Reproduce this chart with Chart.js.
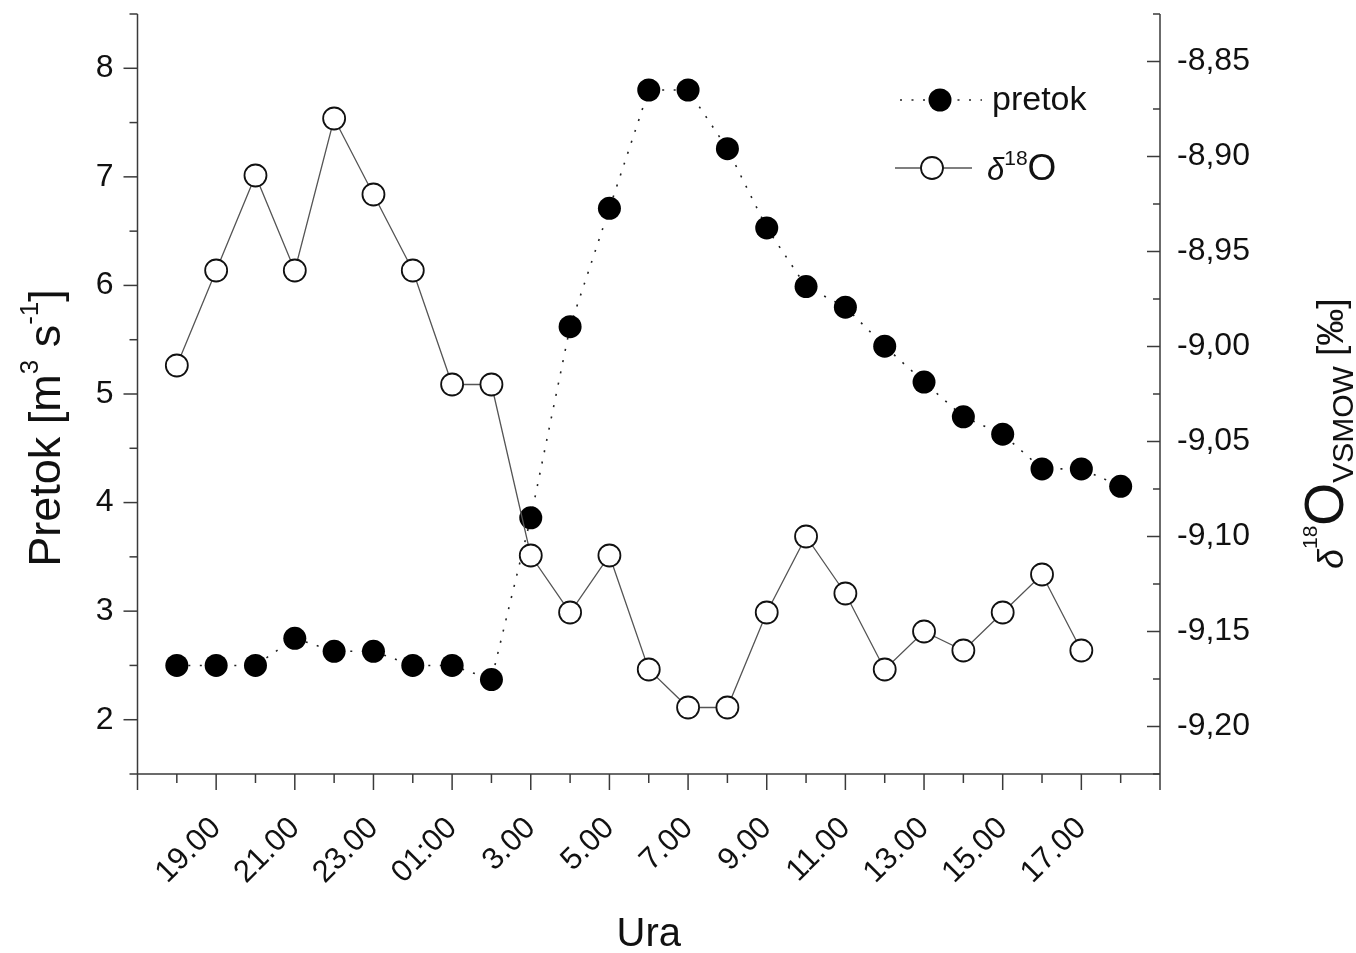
<!DOCTYPE html>
<html>
<head>
<meta charset="utf-8">
<script src="https://cdn.jsdelivr.net/npm/chart.js@4.4.0/dist/chart.umd.min.js"></script>
<style>
  html, body { margin: 0; padding: 0; background: #fff; }
  #wrap { width: 1356px; height: 953px; }
</style>
</head>
<body>
<div id="wrap"><canvas id="graf"></canvas></div>
<script>
// ura meritve (od 18.00 do 18.00 naslednji dan); lihe se izpišejo na osi
const ure = ['18.00', '19.00', '20.00', '21.00', '22.00', '23.00', '00.00', '01:00', '2.00',
  '3.00', '4.00', '5.00', '6.00', '7.00', '8.00', '9.00', '10.00', '11.00', '12.00',
  '13.00', '14.00', '15.00', '16.00', '17.00', '18.00'];

// pretok [m3/s]
const pretok = [2.50, 2.50, 2.50, 2.75, 2.63, 2.63, 2.50, 2.50, 2.37, 3.86, 5.62, 6.71, 7.80,
  7.80, 7.26, 6.53, 5.99, 5.80, 5.44, 5.11, 4.79, 4.63, 4.31, 4.31, 4.15];

// delta 18O [permil]
const delta18O = [-9.01, -8.96, -8.91, -8.96, -8.88, -8.92, -8.96, -9.02, -9.02, -9.11, -9.14,
  -9.11, -9.17, -9.19, -9.19, -9.14, -9.10, -9.13, -9.17, -9.15, -9.16, -9.14, -9.12, -9.16];

const levoTicks = [2, 3, 4, 5, 6, 7, 8];
const desnoTicks = [-9.20, -9.15, -9.10, -9.05, -9.00, -8.95, -8.90, -8.85];

const pisava = '"Liberation Sans", Arial, sans-serif';
const barvaOsi = '#3a3a3a';

function crta(ctx, x0, y0, x1, y1) {
  ctx.beginPath();
  ctx.moveTo(x0, y0);
  ctx.lineTo(x1, y1);
  ctx.stroke();
}

// niz delov besedila (nadpisi, podpisi) od x naprej na osnovni črti y
function besedilo(ctx, deli, x, y, risi) {
  let cx = x;
  for (const d of deli) {
    ctx.font = (d.italic ? 'italic ' : '') + d.size + 'px ' + pisava;
    if (risi) ctx.fillText(d.t, cx, y + (d.dy || 0));
    cx += ctx.measureText(d.t).width;
  }
  return cx - x;
}

// osi in zareze
const osiPlugin = {
  id: 'osi',
  beforeDatasetsDraw(chart) {
    const { ctx, chartArea: a, scales: { x, y, y1 } } = chart;
    ctx.save();
    ctx.strokeStyle = barvaOsi;
    ctx.lineWidth = 1.5;
    crta(ctx, a.left, a.top, a.left, a.bottom);
    crta(ctx, a.left, a.bottom, a.right, a.bottom);
    crta(ctx, a.right, a.top, a.right, a.bottom);

    for (let v = y.min; v <= y.max + 1e-9; v += 0.5) {
      const p = y.getPixelForValue(v);
      const dolga = levoTicks.some(t => Math.abs(t - v) < 1e-6);
      crta(ctx, a.left - (dolga ? 14 : 8), p, a.left, p);
    }
    for (let v = y1.min; v <= y1.max + 1e-9; v += 0.025) {
      const p = y1.getPixelForValue(v);
      const dolga = desnoTicks.some(t => Math.abs(t - v) < 1e-6);
      crta(ctx, a.right - (dolga ? 13 : 7), p, a.right, p);
    }
    for (let v = x.min; v <= x.max; v++) {
      const p = x.getPixelForValue(v);
      const dolga = Math.abs(v % 2) === 1;
      crta(ctx, p, a.bottom, p, a.bottom + (dolga ? 16 : 9));
    }
    ctx.restore();
  }
};

// naslovi osi
const nasloviPlugin = {
  id: 'naslovi',
  afterDraw(chart) {
    const { ctx, chartArea: a } = chart;
    ctx.save();
    ctx.fillStyle = '#111';
    ctx.textBaseline = 'alphabetic';

    ctx.font = '40px ' + pisava;
    ctx.textAlign = 'center';
    ctx.fillText('Ura', (a.left + a.right) / 2, 946);
    ctx.textAlign = 'left';

    const levo = [
      { t: 'Pretok [m', size: 45 },
      { t: '3', size: 26, dy: -22 },
      { t: ' s', size: 45 },
      { t: '-1', size: 26, dy: -22 },
      { t: ']', size: 45 }
    ];
    ctx.save();
    ctx.translate(60, 428);
    ctx.rotate(-Math.PI / 2);
    const w = besedilo(ctx, levo, 0, 0, false);
    besedilo(ctx, levo, -w / 2, 0, true);
    ctx.restore();

    const desno = [
      { t: 'δ', size: 36, italic: true },
      { t: '18', size: 21, dy: -26 },
      { t: 'O', size: 55 },
      { t: 'VSMOW', size: 30, dy: 10 },
      { t: ' [‰]', size: 37 }
    ];
    ctx.save();
    ctx.translate(1343, 569);
    ctx.rotate(-Math.PI / 2);
    besedilo(ctx, desno, 0, 0, true);
    ctx.restore();
    ctx.restore();
  }
};

// legenda
const legendaPlugin = {
  id: 'legenda',
  afterDatasetsDraw(chart) {
    const ctx = chart.ctx;
    const dsP = chart.data.datasets[1];
    const dsD = chart.data.datasets[0];
    ctx.save();
    ctx.fillStyle = '#111';

    ctx.strokeStyle = dsP.borderColor;
    ctx.lineWidth = dsP.borderWidth;
    ctx.setLineDash(dsP.borderDash);
    crta(ctx, 900, 100, 982, 100);
    ctx.setLineDash([]);
    ctx.beginPath();
    ctx.arc(940, 100, dsP.pointRadius, 0, Math.PI * 2);
    ctx.fillStyle = dsP.pointBackgroundColor;
    ctx.fill();
    ctx.fillStyle = '#111';
    besedilo(ctx, [{ t: dsP.label, size: 34 }], 992, 110, true);

    ctx.strokeStyle = dsD.borderColor;
    ctx.lineWidth = dsD.borderWidth;
    crta(ctx, 895, 168, 972, 168);
    ctx.beginPath();
    ctx.arc(932, 168, dsD.pointRadius, 0, Math.PI * 2);
    ctx.fillStyle = dsD.pointBackgroundColor;
    ctx.fill();
    ctx.strokeStyle = dsD.pointBorderColor;
    ctx.lineWidth = dsD.pointBorderWidth;
    ctx.stroke();
    ctx.fillStyle = '#111';
    besedilo(ctx, [
      { t: 'δ', size: 31, italic: true },
      { t: '18', size: 21, dy: -15 },
      { t: 'O', size: 37 }
    ], 987, 180, true);
    ctx.restore();
  }
};

function brezRoba(s) {
  s.paddingLeft = 0; s.paddingRight = 0; s.paddingTop = 0; s.paddingBottom = 0;
}

const ctx = document.getElementById('graf').getContext('2d');
new Chart(ctx, {
  type: 'line',
  data: {
    datasets: [
      {
        label: 'δ18O',
        data: delta18O.map((v, i) => ({ x: i, y: v })),
        yAxisID: 'y1',
        borderColor: '#555',
        borderWidth: 1.3,
        pointRadius: 11,
        pointBackgroundColor: '#fff',
        pointBorderColor: '#111',
        pointBorderWidth: 1.8,
        tension: 0,
        order: 0
      },
      {
        label: 'pretok',
        data: pretok.map((v, i) => ({ x: i, y: v })),
        yAxisID: 'y',
        borderColor: '#222',
        borderWidth: 1.6,
        borderDash: [2, 9.5],
        pointRadius: 11.5,
        pointBackgroundColor: '#000',
        pointBorderWidth: 0,
        tension: 0,
        order: 1
      }
    ]
  },
  options: {
    responsive: true,
    maintainAspectRatio: false,
    animation: false,
    layout: { padding: { top: 14, left: 0, right: 0, bottom: 0 } },
    plugins: {
      legend: { display: false },
      tooltip: { enabled: false }
    },
    scales: {
      x: {
        type: 'linear',
        min: -1,
        max: 25,
        grid: { display: false, drawTicks: false },
        border: { display: false },
        afterBuildTicks: s => {
          s.ticks = ure.map((_, i) => ({ value: i })).filter(t => t.value % 2 === 1);
        },
        ticks: {
          autoSkip: false,
          minRotation: 45,
          maxRotation: 45,
          padding: 36,
          color: '#111',
          font: { family: pisava, size: 31 },
          callback: v => ure[v]
        },
        afterFit: s => { s.height = 179; brezRoba(s); }
      },
      y: {
        position: 'left',
        min: 1.5,
        max: 8.5,
        grid: { display: false, drawTicks: false },
        border: { display: false },
        afterBuildTicks: s => { s.ticks = levoTicks.map(v => ({ value: v })); },
        ticks: {
          padding: 24,
          color: '#111',
          font: { family: pisava, size: 32 },
          callback: v => String(v)
        },
        afterFit: s => { s.width = 137.5; brezRoba(s); }
      },
      y1: {
        position: 'right',
        min: -9.225,
        max: -8.825,
        grid: { display: false, drawTicks: false },
        border: { display: false },
        afterBuildTicks: s => { s.ticks = desnoTicks.map(v => ({ value: v })); },
        ticks: {
          padding: 17,
          color: '#111',
          font: { family: pisava, size: 32 },
          callback: v => v.toFixed(2).replace('.', ',')
        },
        afterFit: s => { s.width = 196; brezRoba(s); }
      }
    }
  },
  plugins: [osiPlugin, legendaPlugin, nasloviPlugin]
});
</script>
</body>
</html>
